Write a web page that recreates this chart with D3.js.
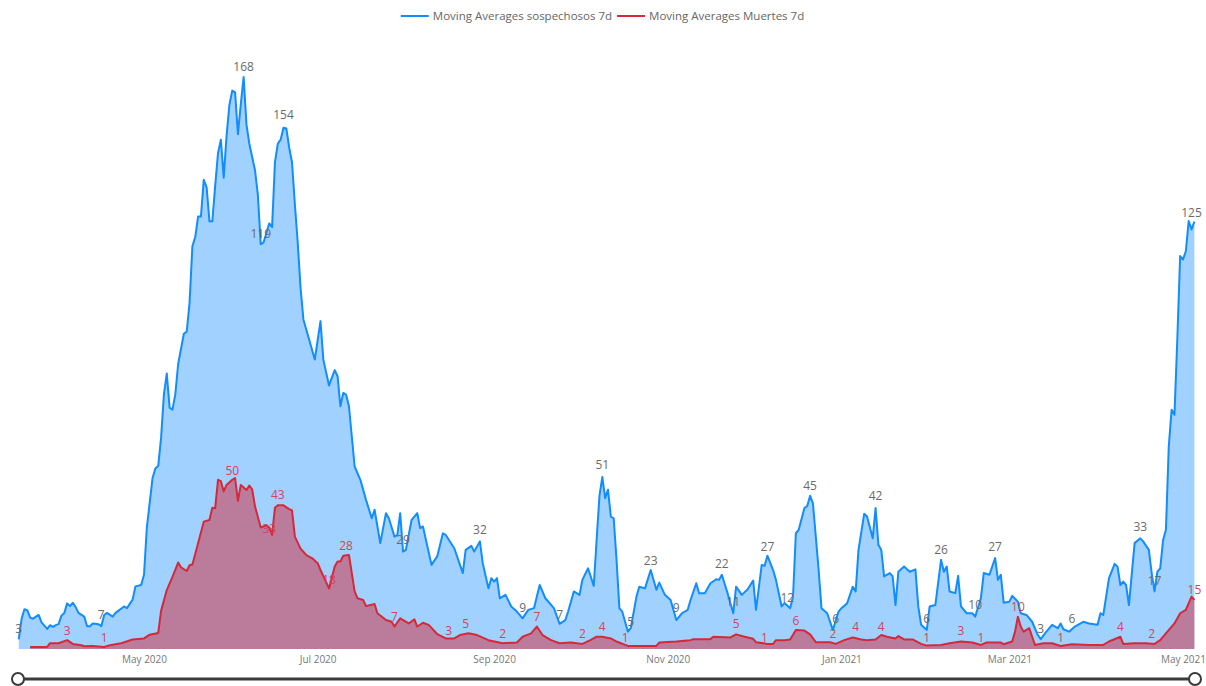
<!DOCTYPE html>
<html>
<head>
<meta charset="utf-8">
<script src="https://cdn.jsdelivr.net/npm/d3@7"></script>
<style>
  body { margin: 0; background: #fff; }
  svg text { font-family: "Segoe UI", "Open Sans", sans-serif; }
</style>
</head>
<body>
<div id="chart"></div>
<script>
// daily 7d moving averages
const sospechososDates = ["2020-03-18","2020-03-19","2020-03-20","2020-03-21","2020-03-22","2020-03-23","2020-03-25","2020-03-26","2020-03-28","2020-03-29","2020-03-30","2020-03-31","2020-04-01","2020-04-02","2020-04-03","2020-04-04","2020-04-05","2020-04-06","2020-04-07","2020-04-08","2020-04-10","2020-04-11","2020-04-12","2020-04-13","2020-04-15","2020-04-16","2020-04-17","2020-04-18","2020-04-20","2020-04-21","2020-04-24","2020-04-25","2020-04-27","2020-04-28","2020-04-30","2020-05-01","2020-05-02","2020-05-04","2020-05-05","2020-05-06","2020-05-07","2020-05-08","2020-05-09","2020-05-10","2020-05-11","2020-05-12","2020-05-13","2020-05-15","2020-05-16","2020-05-17","2020-05-18","2020-05-19","2020-05-20","2020-05-21","2020-05-22","2020-05-23","2020-05-24","2020-05-25","2020-05-26","2020-05-27","2020-05-28","2020-05-29","2020-05-30","2020-05-31","2020-06-01","2020-06-02","2020-06-03","2020-06-04","2020-06-05","2020-06-06","2020-06-07","2020-06-09","2020-06-10","2020-06-11","2020-06-12","2020-06-13","2020-06-14","2020-06-15","2020-06-16","2020-06-17","2020-06-18","2020-06-19","2020-06-20","2020-06-21","2020-06-22","2020-06-23","2020-06-24","2020-06-25","2020-06-26","2020-06-28","2020-06-30","2020-07-02","2020-07-03","2020-07-05","2020-07-07","2020-07-08","2020-07-09","2020-07-10","2020-07-11","2020-07-12","2020-07-14","2020-07-16","2020-07-18","2020-07-20","2020-07-21","2020-07-23","2020-07-25","2020-07-26","2020-07-28","2020-07-29","2020-07-30","2020-07-31","2020-08-01","2020-08-03","2020-08-05","2020-08-06","2020-08-07","2020-08-10","2020-08-12","2020-08-14","2020-08-15","2020-08-18","2020-08-21","2020-08-22","2020-08-24","2020-08-25","2020-08-27","2020-08-28","2020-08-30","2020-08-31","2020-09-01","2020-09-02","2020-09-03","2020-09-05","2020-09-07","2020-09-09","2020-09-11","2020-09-13","2020-09-15","2020-09-17","2020-09-19","2020-09-22","2020-09-24","2020-09-26","2020-09-27","2020-09-29","2020-10-01","2020-10-02","2020-10-04","2020-10-06","2020-10-07","2020-10-08","2020-10-09","2020-10-10","2020-10-11","2020-10-12","2020-10-13","2020-10-14","2020-10-15","2020-10-16","2020-10-17","2020-10-18","2020-10-19","2020-10-21","2020-10-22","2020-10-24","2020-10-26","2020-10-28","2020-10-29","2020-10-31","2020-11-02","2020-11-04","2020-11-06","2020-11-08","2020-11-09","2020-11-11","2020-11-12","2020-11-14","2020-11-16","2020-11-18","2020-11-19","2020-11-20","2020-11-22","2020-11-24","2020-11-25","2020-11-27","2020-11-29","2020-12-01","2020-12-02","2020-12-04","2020-12-05","2020-12-06","2020-12-08","2020-12-09","2020-12-11","2020-12-12","2020-12-14","2020-12-15","2020-12-16","2020-12-17","2020-12-19","2020-12-20","2020-12-21","2020-12-22","2020-12-24","2020-12-25","2020-12-27","2020-12-29","2020-12-31","2021-01-01","2021-01-03","2021-01-05","2021-01-06","2021-01-07","2021-01-09","2021-01-10","2021-01-12","2021-01-13","2021-01-14","2021-01-15","2021-01-16","2021-01-18","2021-01-19","2021-01-20","2021-01-21","2021-01-23","2021-01-25","2021-01-27","2021-01-28","2021-01-29","2021-01-31","2021-02-01","2021-02-03","2021-02-05","2021-02-06","2021-02-07","2021-02-08","2021-02-10","2021-02-11","2021-02-12","2021-02-14","2021-02-16","2021-02-17","2021-02-19","2021-02-20","2021-02-22","2021-02-24","2021-02-25","2021-02-26","2021-02-27","2021-03-01","2021-03-02","2021-03-04","2021-03-05","2021-03-07","2021-03-09","2021-03-11","2021-03-12","2021-03-14","2021-03-16","2021-03-18","2021-03-19","2021-03-20","2021-03-22","2021-03-24","2021-03-27","2021-03-29","2021-04-01","2021-04-02","2021-04-03","2021-04-05","2021-04-07","2021-04-08","2021-04-09","2021-04-10","2021-04-11","2021-04-12","2021-04-14","2021-04-16","2021-04-17","2021-04-19","2021-04-20","2021-04-21","2021-04-22","2021-04-23","2021-04-24","2021-04-25","2021-04-26","2021-04-27","2021-04-28","2021-04-29","2021-04-30","2021-05-01","2021-05-02","2021-05-03","2021-05-04","2021-05-05"];
const sospechososValues = [2.8,8.9,11.7,11.4,9.2,8.9,10,7.8,5.9,7,6.5,7,7.3,9.8,10.6,13.4,12.6,13.6,12.3,10.6,9.5,6.7,6.7,7.5,7.3,6.7,10,10.6,9.5,10.6,12.5,12,14.5,18.4,18.8,21.8,35.7,50.2,53,53.8,62,74.8,80.9,70.9,70.3,74.8,83.7,92.6,93.2,101.6,118.3,121,127,127,137.8,135.6,125.6,125.6,136,145.6,149.6,138.4,150.7,159.8,164,163.5,151.2,160,168,154,148.4,140.6,133.4,118.9,119.4,122.2,125,123.9,142.9,148.4,149.6,153.1,152.9,147.3,142.9,130.6,119.4,106,96.8,90.9,85,96.3,85,77.4,81.9,80.1,71.3,75.2,74.7,71.3,53.6,49.7,43.8,38.4,40.9,31.1,39.9,38.4,33,33.5,39.9,28.6,29.1,37.9,39.9,35.5,36,24.7,27.2,34,33.5,29.6,22.3,29.1,30.3,28.6,31.6,25.2,17.8,20.8,19.8,20.8,14.9,15.9,12.5,11,9,11.5,12,18.8,14.9,12,7.4,8.5,11,16.9,15.9,20.3,23.7,18.5,32,45,50.5,44.3,46.8,38.9,38.4,26.2,12,11,8,5.1,6.1,15.4,18.3,17.8,23.2,17.4,19.5,15.9,14.4,8.5,10.5,11.5,14.4,19.3,16.4,16.4,19.3,20.5,20.3,21.8,16.4,10.5,18.3,15.9,17.5,20.1,11.5,24.7,24.4,27.4,23.2,20.3,12.5,13.5,12,15.4,34,35,41.4,42,45,42.8,23.2,12,10.5,5.6,11,12,13.4,18.3,16.9,29.1,39.7,38.9,32.5,41.4,30.6,29.1,21.3,22.3,21.3,12.9,22.7,24.2,22.7,23.4,12.5,7.1,5.6,12.5,12.9,26.2,22.7,24.2,16.9,16.4,21.5,12.5,10.5,10.5,9.5,14.9,22.3,21.8,26.7,20.3,21.8,13.6,13.9,15.6,13.9,10.5,10,8,4.1,2.9,5.1,7.1,6.1,7.5,5.8,5.1,6.6,8,7.5,7.1,10.5,10,20.8,25,24.2,18.8,19.8,18.8,12.9,31.1,32.5,31.6,29.1,22.3,16.9,22.7,23.7,32,35,59.5,70.3,68.8,90.9,115.4,114.4,116.9,125.7,123.2,125.5];

const muertesDates = ["2020-03-22","2020-03-28","2020-03-29","2020-04-01","2020-04-04","2020-04-06","2020-04-09","2020-04-10","2020-04-13","2020-04-17","2020-04-19","2020-04-23","2020-04-27","2020-05-01","2020-05-03","2020-05-06","2020-05-07","2020-05-09","2020-05-11","2020-05-13","2020-05-14","2020-05-16","2020-05-17","2020-05-18","2020-05-19","2020-05-22","2020-05-24","2020-05-25","2020-05-26","2020-05-27","2020-05-28","2020-05-29","2020-05-30","2020-06-01","2020-06-02","2020-06-03","2020-06-04","2020-06-06","2020-06-07","2020-06-08","2020-06-09","2020-06-11","2020-06-13","2020-06-14","2020-06-15","2020-06-16","2020-06-17","2020-06-19","2020-06-21","2020-06-22","2020-06-23","2020-06-25","2020-06-27","2020-06-29","2020-07-01","2020-07-02","2020-07-05","2020-07-07","2020-07-08","2020-07-09","2020-07-10","2020-07-12","2020-07-13","2020-07-14","2020-07-15","2020-07-17","2020-07-18","2020-07-21","2020-07-22","2020-07-25","2020-07-27","2020-07-28","2020-07-30","2020-08-02","2020-08-04","2020-08-05","2020-08-07","2020-08-09","2020-08-12","2020-08-15","2020-08-18","2020-08-20","2020-08-23","2020-08-26","2020-08-30","2020-09-04","2020-09-09","2020-09-11","2020-09-14","2020-09-16","2020-09-18","2020-09-21","2020-09-24","2020-09-28","2020-10-02","2020-10-05","2020-10-07","2020-10-09","2020-10-12","2020-10-14","2020-10-18","2020-10-28","2020-10-29","2020-11-04","2020-11-09","2020-11-10","2020-11-16","2020-11-17","2020-11-23","2020-11-25","2020-11-28","2020-12-01","2020-12-02","2020-12-06","2020-12-08","2020-12-09","2020-12-12","2020-12-14","2020-12-16","2020-12-19","2020-12-21","2020-12-23","2020-12-28","2020-12-30","2021-01-02","2021-01-05","2021-01-08","2021-01-10","2021-01-13","2021-01-15","2021-01-17","2021-01-20","2021-01-21","2021-01-23","2021-01-26","2021-01-29","2021-01-31","2021-02-05","2021-02-08","2021-02-12","2021-02-16","2021-02-19","2021-02-21","2021-02-26","2021-02-27","2021-03-02","2021-03-03","2021-03-04","2021-03-05","2021-03-06","2021-03-08","2021-03-09","2021-03-10","2021-03-13","2021-03-16","2021-03-19","2021-03-23","2021-03-29","2021-04-03","2021-04-05","2021-04-09","2021-04-10","2021-04-14","2021-04-18","2021-04-21","2021-04-23","2021-04-25","2021-04-28","2021-04-30","2021-05-02","2021-05-04","2021-05-05"];
const muertesValues = [0.6,0.6,1.7,1.7,2.6,1.5,1.1,0.8,0.9,0.6,1.1,1.7,2.8,3.1,4.2,4.7,11.2,17.3,21.2,25.4,24,22.9,24.6,24.8,27.9,37.4,37.9,41.5,41.3,49.7,49.3,46.3,48.2,49.7,50.2,43.5,48.2,46.7,48,46.9,41.9,35.7,36.3,35.7,33.5,41.5,42.2,42.2,41.1,40.7,33,29.5,27.6,26.7,25.2,23.2,17.8,24.2,25.7,25.7,27.4,27.6,22.3,16.9,14.9,14.4,12.6,13.2,10.5,8.5,8,6.6,9,7.5,8.7,6.6,7.7,7.1,4.4,3.1,3.1,4.1,4.6,4.1,2.6,1.7,1.9,3.6,4.6,6.6,4.1,2.6,1.7,1.9,1.5,2.7,3.6,3.6,3.1,2.2,0.9,0.9,1.9,2.2,2.6,2.9,2.9,3.6,3.4,4.3,3.6,3,2,1.5,1.5,2.6,2.6,2.8,5.6,5.4,4.3,2,2,1.5,2.6,3.4,2.8,2.6,2.8,4.1,3.6,3.1,3.8,2.8,2.8,1.5,1,1.2,1.7,2.2,1.9,1.2,1.9,1.9,1.4,2.2,5.1,9.5,6.6,5.1,6.1,3.6,1.2,1.7,1.7,0.9,1.4,1.2,1.2,2.2,3.6,1.5,1.7,1.7,1.5,2.6,4.6,7.5,10.5,11.5,15.4,14.4];

// data labels shown on the chart
const sospechososLabelDates = ["2020-03-18","2020-04-16","2020-06-05","2020-06-19","2020-06-11","2020-07-31","2020-08-27","2020-09-11","2020-09-24","2020-10-09","2020-10-19","2020-10-26","2020-11-04","2020-11-20","2020-11-24","2020-12-06","2020-12-13","2020-12-21","2020-12-30","2021-01-13","2021-01-31","2021-02-05","2021-02-17","2021-02-24","2021-03-12","2021-03-23","2021-04-16","2021-04-21","2021-05-04"];
const sospechososLabelTexts = [3,7,168,154,119,29,32,9,7,51,5,23,9,22,11,27,12,45,6,42,6,26,10,27,3,6,33,17,125];
const muertesLabelDates = ["2020-04-04","2020-04-17","2020-06-01","2020-06-14","2020-06-17","2020-07-05","2020-07-11","2020-07-28","2020-08-16","2020-08-22","2020-09-04","2020-09-16","2020-10-02","2020-10-09","2020-10-17","2020-11-25","2020-12-05","2020-12-16","2020-12-29","2021-01-06","2021-01-15","2021-01-31","2021-02-12","2021-02-19","2021-03-04","2021-03-19","2021-04-09","2021-04-20","2021-05-05"];
const muertesLabelTexts = [3,1,50,33,43,18,28,7,3,5,2,7,2,4,1,5,1,6,2,4,4,1,3,1,10,1,4,2,15];

const tickDates = ["2020-05-01","2020-07-01","2020-09-01","2020-11-01","2021-01-01","2021-03-01","2021-05-01"];
const seriesNames = ["Moving Averages sospechosos 7d", "Moving Averages Muertes 7d"];

const blue = "#118DFF", red = "#D62839";
const W = 1206, H = 686;
const baseY = 649;

const parseDate = d3.timeParse("%Y-%m-%d");
const sospechosos = sospechososDates.map((d, i) => ({ date: parseDate(d), value: sospechososValues[i] }));
const muertes = muertesDates.map((d, i) => ({ date: parseDate(d), value: muertesValues[i] }));

const svg = d3.select("#chart").append("svg")
    .attr("width", W)
    .attr("height", H);

const x = d3.scaleTime()
    .domain([parseDate("2020-05-01"), parseDate("2021-05-01")])
    .range([144, 1183]);
const y = d3.scaleLinear().domain([0, 168]).range([baseY, 77]);

const area = d3.area().x(d => x(d.date)).y0(baseY).y1(d => y(d.value));
const line = d3.line().x(d => x(d.date)).y(d => y(d.value));

svg.append("path").datum(sospechosos)
    .attr("d", area).attr("fill", blue).attr("fill-opacity", 0.4);
svg.append("path").datum(muertes)
    .attr("d", area).attr("fill", red).attr("fill-opacity", 0.5);
svg.append("path").datum(sospechosos)
    .attr("d", line).attr("fill", "none").attr("stroke", blue).attr("stroke-width", 2).attr("stroke-linejoin", "round");
svg.append("path").datum(muertes)
    .attr("d", line).attr("fill", "none").attr("stroke", red).attr("stroke-width", 2).attr("stroke-linejoin", "round");

// data labels
function addLabels(dates, texts, color, lift) {
    svg.append("g").selectAll("text")
        .data(dates.map((d, i) => ({ date: parseDate(d), v: texts[i] })))
        .enter().append("text")
        .attr("x", d => x(d.date))
        .attr("y", d => y(d.v) - lift)
        .attr("text-anchor", "middle")
        .style("font-size", "12px")
        .style("fill", color)
        .text(d => d.v);
}
addLabels(sospechososLabelDates, sospechososLabelTexts, "#6b6b6b", 6);
addLabels(muertesLabelDates, muertesLabelTexts, "#d2455a", 4);

// x axis
const xAxis = svg.append("g")
    .attr("transform", `translate(0,${baseY})`)
    .call(d3.axisBottom(x).tickValues(tickDates.map(parseDate)).tickSize(0).tickPadding(7)
        .tickFormat(d3.timeFormat("%b %Y")));
xAxis.select(".domain").remove();
xAxis.selectAll("text").style("font-size", "10px").style("fill", "#777");

// range slider at the bottom
const slider = svg.append("g");
slider.append("line")
    .attr("x1", 18).attr("x2", 1195).attr("y1", 679).attr("y2", 679)
    .attr("stroke", "#3a3a3a").attr("stroke-width", 3);
slider.selectAll("circle").data([18, 1195]).enter().append("circle")
    .attr("cx", d => d).attr("cy", 679).attr("r", 6)
    .attr("fill", "#fff").attr("stroke", "#3a3a3a").attr("stroke-width", 2);

// legend
const legend = svg.append("g");
let lx = 0;
seriesNames.forEach((name, i) => {
    const g = legend.append("g").attr("transform", `translate(${lx},0)`);
    g.append("line").attr("x1", 0).attr("x2", 28).attr("y1", 16).attr("y2", 16)
        .attr("stroke", i === 0 ? blue : red).attr("stroke-width", 2);
    const t = g.append("text").attr("x", 32).attr("y", 20)
        .style("font-size", "11.5px").style("fill", "#666").text(name);
    lx += 32 + t.node().getComputedTextLength() + 5;
});
legend.attr("transform", `translate(${(W - lx) / 2 + 2},0)`);
</script>
</body>
</html>
